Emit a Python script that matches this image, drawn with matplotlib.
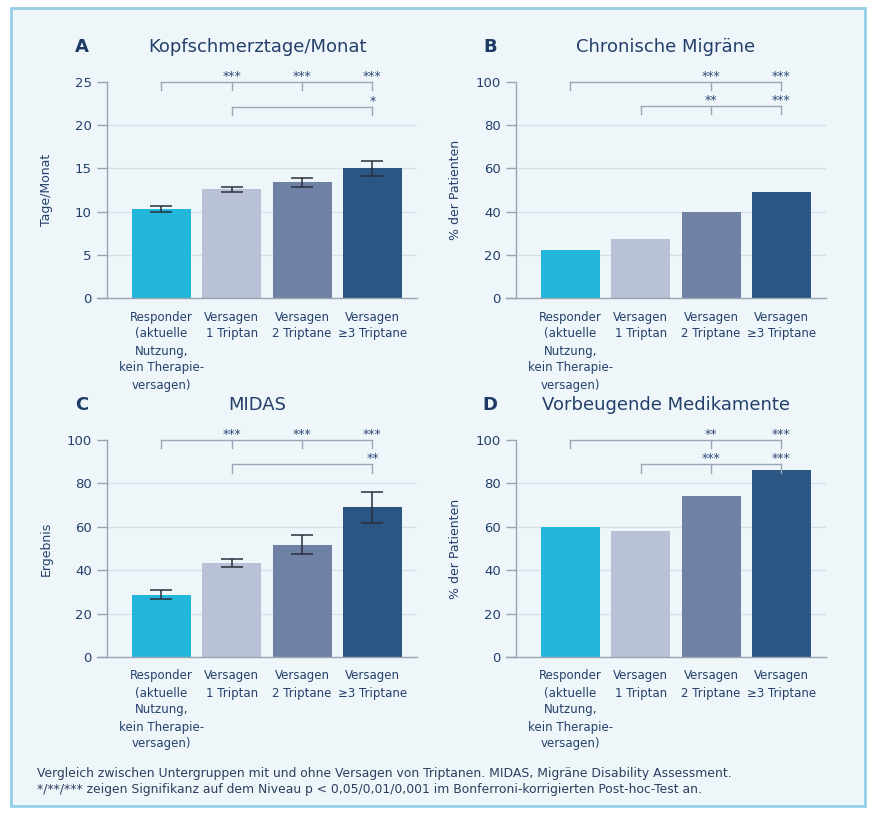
import matplotlib.pyplot as plt
from matplotlib.patches import Rectangle

plt.rcParams['font.family'] = ['DejaVu Sans']

W, H = 870, 814

groups = ['Responder\n(aktuelle\nNutzung,\nkein Therapie-\nversagen)',
          'Versagen\n1 Triptan', 'Versagen\n2 Triptane', 'Versagen\n≥3 Triptane']
bar_colors = ['#22b7da', '#b9c1d6', '#6f82a6', '#2b5683']

# Kopfschmerztage pro Monat (Mittelwert ± SE)
days = [10.3, 12.6, 13.4, 15.0]
days_err = [0.35, 0.3, 0.5, 0.9]
# Anteil chronische Migräne (%)
chronic = [22.3, 27.5, 39.7, 49.2]
# MIDAS-Score
midas = [28.8, 43.2, 51.8, 68.9]
midas_err = [2.0, 1.8, 4.3, 7.0]
# Anteil mit vorbeugender Medikation (%)
preventive = [59.8, 58.2, 74.3, 86.0]

# Signifikanz-Klammern: (Startgruppe, Höhe relativ zur y-Achse, {Gruppe: Sterne})
sig_a = [(0, 1.0, {1: '***', 2: '***', 3: '***'}), (1, 0.884, {3: '*'})]
sig_b = [(0, 1.0, {2: '***', 3: '***'}), (1, 0.888, {2: '**', 3: '***'})]
sig_c = [(0, 1.0, {1: '***', 2: '***', 3: '***'}), (1, 0.888, {3: '**'})]
sig_d = [(0, 1.0, {2: '**', 3: '***'}), (1, 0.888, {2: '***', 3: '***'})]

navy = '#24406a'
axis_col = '#9aa4b2'
grid_col = '#d6dee7'
bracket_col = '#9ba6b6'

fig = plt.figure(figsize=(W / 100, H / 100), dpi=100)
fig.patch.set_facecolor('white')
frame = Rectangle((11 / W, 1 - 806 / H), 854 / W, 798 / H,
                  transform=fig.transFigure, facecolor='#eef6fa',
                  edgecolor='#94cfe9', lw=2, zorder=-10)
fig.patches.append(frame)

x = [0, 1, 2, 3]
x_lo, x_hi, y_spine = -0.917, 3.633, -0.775


def panel(left, top, bottom, letter, title, values, ymax, yticks, ylabel, sig, err=None):
    ax = fig.add_axes([left / W, 1 - bottom / H, 320 / W, (bottom - top) / H])
    ax.set_facecolor('none')
    ax.set_xlim(x_lo, x_hi)
    ax.set_ylim(0, ymax)
    for t in yticks[1:-1]:
        ax.hlines(t, y_spine, x_hi, color=grid_col, lw=0.9, zorder=0)
    ax.bar(x, values, width=0.84, color=bar_colors, zorder=2)
    if err is not None:
        ax.errorbar(x, values, yerr=err, fmt='none', ecolor='#2a2f3d',
                    elinewidth=1.1, capsize=8, capthick=1.1, zorder=3)
    for s in ['top', 'right']:
        ax.spines[s].set_visible(False)
    ax.spines['left'].set_position(('data', y_spine))
    for s in ['left', 'bottom']:
        ax.spines[s].set_color(axis_col)
        ax.spines[s].set_linewidth(1.0)
    ax.set_yticks(yticks)
    ax.tick_params(axis='y', length=7, width=1.0, color=axis_col, labelsize=9.5,
                   labelcolor=navy, pad=4)
    ax.set_xticks(x)
    ax.set_xticklabels(groups, fontsize=8.5, color=navy, linespacing=1.4)
    ax.tick_params(axis='x', length=0, pad=9)
    ax.set_ylabel(ylabel, fontsize=9, color=navy)
    ax.yaxis.set_label_coords(-0.1375, 0.5)

    tick = 0.038 * ymax
    for start, level, stars in sig:
        yl = level * ymax
        ax.plot([start, 3], [yl, yl], color=bracket_col, lw=1.0, clip_on=False, zorder=4)
        for i in [start] + list(stars):
            ax.plot([i, i], [yl, yl - tick], color=bracket_col, lw=1.0, clip_on=False, zorder=4)
        for i, s in stars.items():
            ax.annotate(s, (i, yl), xytext=(0, 1.5), textcoords='offset points',
                        ha='center', va='baseline', fontsize=9, color='#2f4a75',
                        annotation_clip=False)

    cx = left + 160
    ty = top - 35
    fig.text(cx / W, 1 - ty / H, title, fontsize=13, color=navy, ha='center', va='center')
    lx = 82 if left < 300 else 490
    fig.text(lx / W, 1 - ty / H, letter, fontsize=13, fontweight='bold', color='#1d3a66',
             ha='center', va='center')
    return ax


panel(97, 82, 298, 'A', 'Kopfschmerztage/Monat', days, 25, [0, 5, 10, 15, 20, 25],
      'Tage/Monat', sig_a, err=days_err)
panel(506, 82, 298, 'B', 'Chronische Migräne', chronic, 100, [0, 20, 40, 60, 80, 100],
      '% der Patienten', sig_b)
panel(97, 440, 657, 'C', 'MIDAS', midas, 100, [0, 20, 40, 60, 80, 100],
      'Ergebnis', sig_c, err=midas_err)
panel(506, 440, 657, 'D', 'Vorbeugende Medikamente', preventive, 100, [0, 20, 40, 60, 80, 100],
      '% der Patienten', sig_d)

fig.text(37 / W, 1 - 773 / H,
         'Vergleich zwischen Untergruppen mit und ohne Versagen von Triptanen. '
         'MIDAS, Migräne Disability Assessment.',
         fontsize=8.9, color='#2c3f5e', va='center', ha='left')
fig.text(37 / W, 1 - 789 / H,
         '*/**/*** zeigen Signifikanz auf dem Niveau p < 0,05/0,01/0,001 im '
         'Bonferroni-korrigierten Post-hoc-Test an.',
         fontsize=8.9, color='#2c3f5e', va='center', ha='left')

fig.savefig('out.png', dpi=100)
